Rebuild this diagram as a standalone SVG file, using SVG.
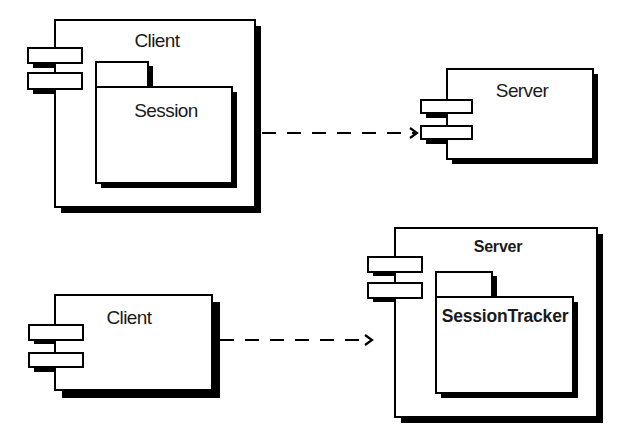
<svg xmlns="http://www.w3.org/2000/svg" width="622" height="438" viewBox="0 0 622 438">
<defs>
<style>
.sh{fill:#000}
.bx{fill:#fff;stroke:#000;stroke-width:2}
.t{font-family:"Liberation Sans",Arial,sans-serif;fill:#1a1a1a;letter-spacing:-0.6px}
.b{font-weight:bold;letter-spacing:-0.2px}
.dash{fill:none;stroke:#000;stroke-width:2.2;stroke-dasharray:14 11}
</style>
<marker id="arr" markerWidth="12" markerHeight="12" refX="10" refY="6" orient="auto" markerUnits="userSpaceOnUse">
<path d="M3,1 L10,6 L3,11" fill="none" stroke="#000" stroke-width="2.2"/>
</marker>
</defs>
<rect width="622" height="438" fill="#fff"/>

<g id="client1">
<rect class="sh" x="33" y="53" width="54" height="15"/>
<rect class="sh" x="33" y="78" width="54" height="16"/>
<rect class="sh" x="61" y="26" width="200" height="187"/>
<rect class="bx" x="55" y="20" width="200" height="187"/>
<rect class="bx" x="28" y="48" width="54" height="15"/>
<rect class="bx" x="28" y="73" width="54" height="16"/>
<text class="t" x="157" y="47" font-size="19" text-anchor="middle">Client</text>
</g>

<g id="session">
<rect class="sh" x="101" y="66" width="52" height="25"/>
<rect class="sh" x="101" y="92" width="136" height="96"/>
<rect class="bx" x="96" y="62" width="52" height="25"/>
<rect class="bx" x="96" y="87" width="136" height="96"/>
<text class="t" x="166" y="117" font-size="19" text-anchor="middle">Session</text>
</g>

<g id="server1">
<rect class="sh" x="426" y="104" width="51" height="14"/>
<rect class="sh" x="426" y="130" width="51" height="14"/>
<rect class="sh" x="452" y="74" width="146" height="90"/>
<rect class="bx" x="447" y="69" width="146" height="90"/>
<rect class="bx" x="421" y="100" width="51" height="13"/>
<rect class="bx" x="421" y="126" width="51" height="13"/>
<text class="t" x="522" y="97" font-size="19" text-anchor="middle">Server</text>
</g>

<g id="client2">
<rect class="sh" x="34" y="329" width="54" height="15"/>
<rect class="sh" x="34" y="357" width="54" height="15"/>
<rect class="sh" x="62" y="302" width="158" height="96"/>
<rect class="bx" x="55" y="295" width="157" height="95"/>
<rect class="bx" x="29" y="325" width="54" height="15"/>
<rect class="bx" x="29" y="353" width="54" height="14"/>
<text class="t" x="129" y="324" font-size="19" text-anchor="middle">Client</text>
</g>

<g id="server2">
<rect class="sh" x="373" y="261" width="54" height="15"/>
<rect class="sh" x="373" y="287" width="54" height="15"/>
<rect class="sh" x="401" y="234" width="202" height="189"/>
<rect class="bx" x="395" y="228" width="202" height="189"/>
<rect class="bx" x="368" y="257" width="54" height="15"/>
<rect class="bx" x="368" y="283" width="54" height="15"/>
<text class="t b" x="498" y="252" font-size="16" text-anchor="middle">Server</text>
</g>

<g id="sessiontracker">
<rect class="sh" x="441" y="276" width="56" height="25"/>
<rect class="sh" x="441" y="302" width="137" height="96"/>
<rect class="bx" x="436" y="272" width="56" height="25"/>
<rect class="bx" x="436" y="297" width="137" height="96"/>
<text class="t b" x="505" y="322" font-size="17.5" text-anchor="middle">SessionTracker</text>
</g>

<g id="connectors">
<line class="dash" x1="262" y1="133" x2="417" y2="133" marker-end="url(#arr)"/>
<line class="dash" x1="220" y1="340" x2="372" y2="340" marker-end="url(#arr)"/>
</g>
</svg>
